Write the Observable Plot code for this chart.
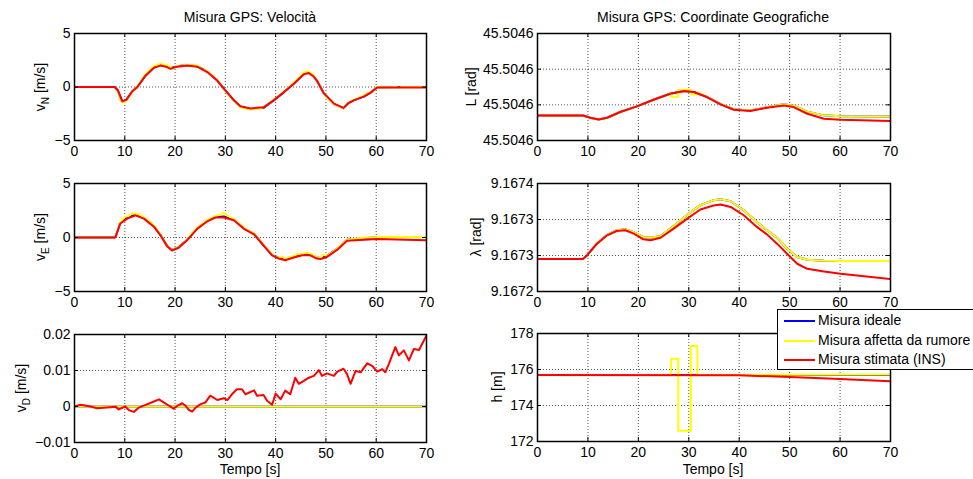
<!DOCTYPE html>
<html>
<head>
<meta charset="utf-8">
<script src="https://cdn.jsdelivr.net/npm/d3@7"></script>
<script src="https://cdn.jsdelivr.net/npm/@observablehq/plot@0.6"></script>
<style>
  html, body { margin: 0; padding: 0; background: #fff; }
  body { width: 973px; height: 479px; overflow: hidden; position: relative;
         font-family: "Liberation Sans", Arial, Helvetica, sans-serif; color: #000; }
  .txt { position: absolute; font-size: 14px; white-space: nowrap; line-height: 1;
         transform: translate(-50%, -50%); }
  .ylab { position: absolute; font-size: 14px; white-space: nowrap; line-height: 1;
          transform: translate(-50%, -50%) rotate(-90deg); }
  .ylab sub { font-size: 10px; vertical-align: -4px; line-height: 0; }
  #legend { position: absolute; left: 777px; top: 309px; width: 240px; height: 58px;
            border: 1px solid #000; background: #fff; font-size: 14px; padding-top: 1px; z-index: 10; }
  #legend .row { height: 19.5px; line-height: 19.5px; white-space: nowrap; }
  #legend .sw { display: inline-block; width: 31px; height: 2px; margin: 0 3px 0 6px; vertical-align: middle; }
</style>
</head>
<body>
<div id="root"></div>
<script>
// ---------- shared ----------
const xTicks = [0, 10, 20, 30, 40, 50, 60, 70];
const colIdeal = "#0000ff", colNoisy = "#ffff00", colIns = "#ff0000";

// ---------- v_N [m/s] ----------
const tVN_ins = [0, 8, 8.6, 9.5, 10.3, 11.5, 12.5, 14, 15.8, 17.1, 18.2, 19.1, 20.4, 22.4, 24.4, 26.4, 28.4, 29.7, 31.7, 33, 35, 37.6, 39.6, 41.6, 43.6, 45.6, 46.6, 47.5, 48.2, 49.6, 51.6, 53.5, 54.5, 55.5, 57.5, 58.8, 60.2, 65, 70];
const vN_ins  = [0, 0, -0.3, -1.35, -1.2, -0.4, 0.0, 1.0, 1.8, 2.0, 1.9, 1.7, 1.9, 2.0, 1.9, 1.4, 0.6, -0.15, -1.25, -1.8, -2.0, -1.9, -1.25, -0.5, 0.3, 1.2, 1.3, 1.0, 0.6, -0.6, -1.55, -1.95, -1.5, -1.25, -0.9, -0.55, -0.05, -0.05, -0.05];
const vN_ideal = [0, 0, -0.3, -1.35, -1.2, -0.4, 0.0, 1.0, 1.85, 2.05, 1.95, 1.75, 1.95, 2.05, 1.95, 1.45, 0.6, -0.15, -1.25, -1.85, -2.05, -1.95, -1.25, -0.5, 0.3, 1.25, 1.35, 1.05, 0.6, -0.6, -1.6, -2.0, -1.5, -1.25, -0.9, -0.55, -0.02, 0, 0];
const tVN_gps = [0, 8, 8.6, 9.2, 9.7, 10.3, 11, 11.5, 12.5, 13.3, 14, 14.8, 15.8, 16.5, 17.1, 17.8, 18.3, 19.1, 19.6, 20.4, 21.2, 22, 22.8, 23.6, 24.4, 25.3, 26.4, 27.4, 28.4, 29.7, 30.6, 31.7, 32.4, 33, 34, 35, 36, 37, 37.6, 38.5, 39.6, 40.6, 41.6, 42.6, 43.6, 44.6, 45.6, 46.6, 47.5, 48.2, 49.6, 50.6, 51.6, 52.5, 53.5, 54.5, 55.5, 56.5, 57.5, 58.2, 58.8, 59.5, 60.2, 62, 64, 64.5, 65, 70];
const vN_gps  = [0, 0, -0.3, -1.3, -1.45, -1.25, -0.8, -0.45, 0.05, 0.6, 1.1, 1.5, 1.95, 2.05, 2.2, 2.0, 2.1, 1.8, 1.7, 2.0, 1.9, 2.1, 2.05, 2.0, 2.0, 1.7, 1.5, 1.05, 0.65, -0.15, -0.7, -1.3, -1.6, -1.9, -2.0, -2.1, -2.05, -2.0, -1.85, -1.6, -1.2, -0.85, -0.45, -0.05, 0.4, 0.85, 1.35, 1.45, 1.1, 0.6, -0.6, -1.2, -1.6, -1.8, -2.0, -1.5, -1.2, -1.05, -0.8, -0.6, -0.45, -0.3, 0.0, -0.02, 0.0, -0.1, 0.0, 0.0];

// ---------- v_E [m/s] ----------
const tVE_ins = [0, 8, 8.2, 9.1, 10.5, 12.1, 13.8, 15.8, 17.1, 18.4, 19.4, 20.7, 22.4, 24.4, 26.4, 28, 29.7, 31.7, 33.7, 35.7, 37.6, 39.3, 40.6, 41.9, 43.6, 45.3, 46.9, 48.2, 48.9, 50.2, 52.2, 54.2, 60.2, 70];
const vE_ins  = [0, 0, 0.1, 1.3, 1.75, 2.05, 1.75, 1.0, 0.2, -0.8, -1.2, -0.95, -0.25, 0.8, 1.5, 1.85, 1.85, 1.6, 0.8, 0.3, -0.75, -1.65, -1.95, -2.1, -1.85, -1.65, -1.65, -1.95, -2.0, -1.8, -1.15, -0.3, -0.15, -0.25];
const vE_ideal = [0, 0, 0.1, 1.35, 1.85, 2.1, 1.8, 1.05, 0.25, -0.75, -1.15, -0.9, -0.2, 0.85, 1.55, 1.9, 1.95, 1.65, 0.85, 0.35, -0.7, -1.6, -1.9, -2.0, -1.8, -1.55, -1.55, -1.85, -1.9, -1.7, -1.05, -0.2, 0.05, 0.05];
const tVE_gps = [0, 8, 8.2, 9.1, 10, 10.8, 11.5, 12.1, 13, 13.8, 15, 15.8, 17.1, 18.4, 19.4, 20.7, 21.5, 22.4, 23.4, 24.4, 25.4, 26.4, 27.3, 28, 29, 29.7, 30.5, 31.7, 32.7, 33.7, 35.7, 37.6, 39.3, 40, 40.6, 41.3, 41.9, 42.7, 43.6, 44.5, 45.3, 46.2, 46.9, 47.5, 48.2, 48.9, 49.5, 50.2, 51.2, 52.2, 53.2, 54.2, 57, 60.2, 70];
const vE_gps  = [0, 0, 0.1, 1.4, 1.9, 2.0, 2.25, 2.2, 2.1, 1.85, 1.45, 1.1, 0.3, -0.75, -1.15, -0.9, -0.6, -0.2, 0.4, 0.9, 1.25, 1.65, 1.8, 2.0, 2.1, 2.3, 2.0, 1.7, 1.3, 0.9, 0.35, -0.7, -1.55, -1.8, -1.9, -1.75, -2.05, -1.8, -1.75, -1.5, -1.55, -1.4, -1.5, -1.6, -1.85, -1.9, -1.6, -1.7, -1.4, -1.05, -0.6, -0.2, -0.05, 0.05, 0.05];

// ---------- v_D [m/s] ----------
const tVD_ins = [0, 1.2, 3.2, 4.5, 6.5, 8.2, 8.8, 10.1, 10.8, 11.8, 12.8, 14.4, 15.8, 16.8, 17.8, 18.8, 19.7, 20.7, 21.4, 22.1, 22.7, 23.4, 24.1, 25, 26, 27, 28.4, 29.7, 30.4, 31.3, 32.3, 33.3, 34, 35.7, 36.3, 37.6, 38.3, 39.3, 40, 41, 41.9, 42.9, 43.9, 44.6, 45.6, 46.6, 47.6, 48.6, 49.2, 50.2, 51.6, 52.2, 53.5, 54.2, 54.9, 55.9, 56.9, 58.2, 59.2, 60.2, 61.2, 61.8, 62.5, 63.8, 64.5, 65.5, 66.5, 67.5, 68.5, 69.1, 70];
const vD_ins  = [0, 0.0005, 0, -0.0005, -0.0003, -0.0001, -0.0008, 0, -0.001, -0.0015, -0.0003, 0.0006, 0.0014, 0.002, 0.0011, 0.0002, -0.0006, 0.0004, 0.0009, 0.0002, -0.0009, -0.0014, -0.0003, 0.0006, 0.0011, 0.003, 0.0018, 0.0023, 0.0018, 0.0034, 0.0048, 0.0048, 0.0034, 0.0045, 0.003, 0.0032, 0.0016, 0.0005, 0.0036, 0.002, 0.0044, 0.0034, 0.008, 0.0063, 0.0071, 0.008, 0.0085, 0.0101, 0.0085, 0.0092, 0.0085, 0.0096, 0.0105, 0.009, 0.0063, 0.0099, 0.0095, 0.012, 0.0113, 0.0097, 0.0104, 0.0095, 0.0118, 0.0165, 0.0142, 0.0156, 0.0128, 0.016, 0.0157, 0.0173, 0.0197];
const tVD_gps = [0, 70];
const vD_gps  = [0, 0];
const vD_ideal = [0, 0];

// ---------- L [rad] ----------
const tL_ins = [0, 9, 10.5, 12.1, 13.8, 16.4, 19.7, 23, 26.3, 29, 31, 33.6, 36.3, 38.9, 42.2, 45.5, 48.8, 50.8, 53.5, 56.8, 60.1, 70];
const L_ins  = [45.50457404, 45.50457404, 45.50457275, 45.50457182, 45.50457275, 45.50457596, 45.50457914, 45.50458286, 45.50458625, 45.50458775, 45.50458718, 45.50458436, 45.50458025, 45.50457725, 45.5045765, 45.50457836, 45.50457968, 45.50457875, 45.504575, 45.50457218, 45.50457164, 45.50457086];
const tL_ideal = [0, 9, 10.5, 12.1, 13.8, 16.4, 19.7, 23, 26.3, 29, 31, 33.6, 36.3, 38.9, 42.2, 45.5, 48.8, 50.8, 53.5, 56.8, 60.1, 70];
const L_ideal  = [45.50457404, 45.50457404, 45.50457275, 45.50457182, 45.50457275, 45.50457596, 45.50457914, 45.50458286, 45.50458625, 45.50458775, 45.50458718, 45.50458448, 45.5045804, 45.50457752, 45.5045768, 45.5045786, 45.50458028, 45.5045795, 45.5045762, 45.5045741, 45.50457356, 45.5045735];
const tL_gps = [0, 9, 10.5, 12.1, 13.8, 16.4, 19.7, 23, 26.5, 26.5, 27.9, 27.9, 30.4, 30.4, 31.7, 31.7, 33.6, 36.3, 38.9, 42.2, 45.5, 48.8, 50.8, 53.5, 56.8, 60.1, 70];
const L_gps  = [45.50457404, 45.50457404, 45.50457275, 45.50457182, 45.50457275, 45.50457596, 45.50457914, 45.50458286, 45.5045864, 45.5045846, 45.5045846, 45.5045885, 45.5045885, 45.5045858, 45.5045858, 45.50458718, 45.50458448, 45.5045804, 45.50457752, 45.5045768, 45.5045786, 45.50458028, 45.5045795, 45.5045762, 45.5045741, 45.50457356, 45.5045735];

// ---------- λ [rad] ----------
const tLam_ins = [0, 9, 9.8, 11.8, 13.8, 15.7, 17.4, 19.1, 21, 22.4, 24.4, 27, 29.7, 32.3, 34.9, 36.3, 38.3, 40.9, 43.5, 45.5, 47.5, 49.5, 51.5, 53.5, 56.8, 60.1, 70];
const lam_ins  = [9.167265, 9.167265, 9.1672701, 9.16728645, 9.167298, 9.167304, 9.16730505, 9.1673004, 9.16729245, 9.1672911, 9.1672947, 9.1673073, 9.16732125, 9.16733385, 9.1673394, 9.16734075, 9.16733745, 9.1673259, 9.1673097, 9.16729935, 9.16728645, 9.1672725, 9.16725855, 9.1672515, 9.1672479, 9.1672446, 9.16723725];
const tLam_gps = [0, 9, 9.8, 11.8, 13.8, 15.7, 17.4, 19.1, 21, 22.4, 24.4, 27, 29.7, 32.3, 34.9, 36.3, 38.3, 40.9, 43.5, 45.5, 47.5, 49.5, 51.5, 53.5, 56.8, 60.1, 70];
const lam_gps  = [9.167265, 9.167265, 9.1672701, 9.16728675, 9.16729875, 9.16730505, 9.1673064, 9.1673022, 9.16729575, 9.1672947, 9.1672971, 9.16731075, 9.1673265, 9.16734, 9.16734675, 9.1673481, 9.1673454, 9.1673328, 9.1673166, 9.16730505, 9.1672947, 9.1672794, 9.16726785, 9.1672641, 9.16726275, 9.16726245, 9.1672623];
const lam_ideal = [9.167265, 9.167265, 9.1672701, 9.16728675, 9.16729875, 9.16730505, 9.1673064, 9.1673022, 9.16729575, 9.1672947, 9.1672971, 9.16731075, 9.1673265, 9.16734, 9.16734675, 9.1673481, 9.1673454, 9.1673328, 9.1673166, 9.16730505, 9.1672947, 9.1672794, 9.16726785, 9.1672641, 9.16726275, 9.16726245, 9.1672623];

// ---------- h [m] ----------
const tH_ins = [0, 40, 50, 60, 70];
const h_ins  = [175.7, 175.68, 175.58, 175.47, 175.34];
const tH_gps = [0, 26.5, 26.5, 27.9, 27.9, 30.4, 30.4, 31.7, 31.7, 70];
const h_gps  = [175.7, 175.7, 176.6, 176.6, 172.6, 172.6, 177.3, 177.3, 175.7, 175.72];
const tH_ideal = [0, 70];
const h_ideal  = [175.7, 175.7];

// ---------- axis ticks ----------
const vTicks   = [-5, 0, 5];
const vDTicks  = [-0.01, 0, 0.01, 0.02];
const LTicks   = [45.50456, 45.50458, 45.50460, 45.50462];
const lamTicks = [9.16722, 9.16727, 9.16732, 9.16737];
const hTicks   = [172, 174, 176, 178];

const FONT = '"Liberation Sans", Arial, Helvetica, sans-serif';
const root = document.getElementById("root");

function panel({fl, ft, fw, fh, ml, yDomain, yTicks, yFormat, series}) {
  const mt = 10, mb = 30, mr = 24;
  const grid = {stroke: "#555", strokeOpacity: 1, strokeWidth: 1, strokeDasharray: "1,2"};
  const chart = Plot.plot({
    width: ml + fw + mr, height: mt + fh + mb,
    marginLeft: ml, marginRight: mr, marginTop: mt, marginBottom: mb,
    style: {background: "none", fontSize: "14px", fontFamily: FONT, color: "#000", overflow: "visible", maxWidth: "none"},
    x: {domain: [0, 70]},
    y: {domain: yDomain},
    marks: [
      Plot.gridX(xTicks, grid),
      Plot.gridY(yTicks, grid),
      ...series.map(s => Plot.lineY(s.v, {x: s.t, stroke: s.color, strokeWidth: 2, clip: true})),
      Plot.ruleX(xTicks, {insetTop: fh - 4, stroke: "#000"}),
      Plot.ruleX(xTicks, {insetBottom: fh - 4, stroke: "#000"}),
      Plot.ruleY(yTicks, {insetRight: fw - 4, stroke: "#000"}),
      Plot.ruleY(yTicks, {insetLeft: fw - 4, stroke: "#000"}),
      Plot.frame({stroke: "#000", strokeWidth: 1.5}),
      Plot.axisX(xTicks, {tickSize: 0, tickPadding: 6, label: null}),
      Plot.axisY(yTicks, {tickSize: 0, tickPadding: 4, label: null, tickFormat: yFormat})
    ]
  });
  chart.style.position = "absolute";
  chart.style.left = (fl - ml) + "px";
  chart.style.top = (ft - mt) + "px";
  root.appendChild(chart);
}

const fmtV = d => d3.format("d")(d);
const fmtVD = d => d === 0 ? "0" : d3.format(".2f")(d);
const fmt4 = d => d3.format(".4f")(d);
const fmtH = d => d3.format("d")(d);

const three = (ti, vi, tg, vg, tn, vn) => [
  {t: ti, v: vi, color: colIdeal},
  {t: tg, v: vg, color: colNoisy},
  {t: tn, v: vn, color: colIns}
];

const L = {fl: 74, fw: 352, ml: 74};
const R = {fl: 537, fw: 353, ml: 70};

panel({...L, ft: 33, fh: 107, yDomain: [-5, 5], yTicks: vTicks, yFormat: fmtV,
  series: three(tVN_ins, vN_ideal, tVN_gps, vN_gps, tVN_ins, vN_ins)});
panel({...L, ft: 183, fh: 108, yDomain: [-5, 5], yTicks: vTicks, yFormat: fmtV,
  series: three(tVE_ins, vE_ideal, tVE_gps, vE_gps, tVE_ins, vE_ins)});
panel({...L, ft: 334, fh: 108, yDomain: [-0.01, 0.02], yTicks: vDTicks, yFormat: fmtVD,
  series: three(tVD_gps, vD_ideal, tVD_gps, vD_gps, tVD_ins, vD_ins)});
panel({...R, ft: 33, fh: 107, yDomain: [45.50456, 45.50462], yTicks: LTicks, yFormat: fmt4,
  series: three(tL_ideal, L_ideal, tL_gps, L_gps, tL_ins, L_ins)});
panel({...R, ft: 183, fh: 108, yDomain: [9.16722, 9.16737], yTicks: lamTicks, yFormat: fmt4,
  series: three(tLam_gps, lam_ideal, tLam_gps, lam_gps, tLam_ins, lam_ins)});
panel({...R, ft: 333, fh: 108, yDomain: [172, 178], yTicks: hTicks, yFormat: fmtH,
  series: three(tH_ideal, h_ideal, tH_gps, h_gps, tH_ins, h_ins)});

// ---------- texts ----------
const texts = [
  {cls: "txt", x: 250, y: 17, html: "Misura GPS: Velocità"},
  {cls: "txt", x: 713, y: 17, html: "Misura GPS: Coordinate Geografiche"},
  {cls: "txt", x: 250, y: 469, html: "Tempo [s]"},
  {cls: "txt", x: 713, y: 469, html: "Tempo [s]"},
  {cls: "ylab", x: 40, y: 87, html: "v<sub>N</sub> [m/s]"},
  {cls: "ylab", x: 40, y: 237, html: "v<sub>E</sub> [m/s]"},
  {cls: "ylab", x: 21, y: 388, html: "v<sub>D</sub> [m/s]"},
  {cls: "ylab", x: 471, y: 87, html: "L [rad]"},
  {cls: "ylab", x: 476, y: 237, html: "λ [rad]"},
  {cls: "ylab", x: 497, y: 387, html: "h [m]"}
];
for (const t of texts) {
  const d = document.createElement("div");
  d.className = t.cls;
  d.style.left = t.x + "px";
  d.style.top = t.y + "px";
  d.innerHTML = t.html;
  document.body.appendChild(d);
}

// ---------- legend ----------
const legendItems = [
  {label: "Misura ideale", color: colIdeal},
  {label: "Misura affetta da rumore", color: colNoisy},
  {label: "Misura stimata (INS)", color: colIns}
];
const leg = document.createElement("div");
leg.id = "legend";
for (const it of legendItems) {
  const r = document.createElement("div");
  r.className = "row";
  r.innerHTML = `<span class="sw" style="background:${it.color}"></span>${it.label}`;
  leg.appendChild(r);
}
document.body.appendChild(leg);
</script>
</body>
</html>
